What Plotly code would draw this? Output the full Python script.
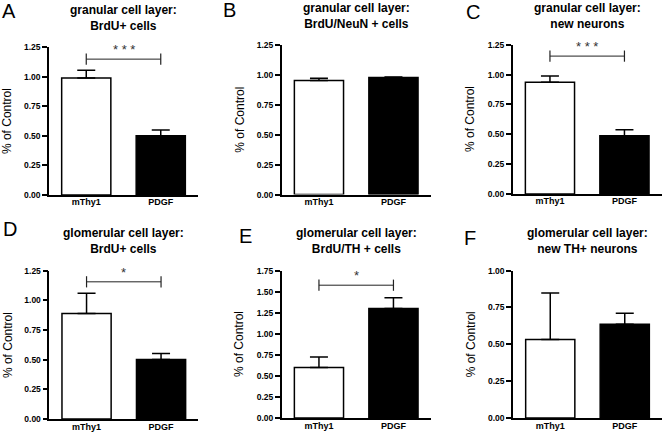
import plotly.graph_objects as go

W, H = 665, 440

# ---------------- data ----------------
groups = ["mThy1", "PDGF"]
panel_letters = ["A", "B", "C", "D", "E", "F"]
title_line1 = ["granular cell layer:", "granular cell layer:", "granular cell layer:",
               "glomerular cell layer:", "glomerular cell layer:", "glomerular cell layer:"]
title_line2 = ["BrdU+ cells", "BrdU/NeuN + cells", "new neurons",
               "BrdU+ cells", "BrdU/TH + cells", "new TH+ neurons"]
means_A = [0.99, 0.50]
sem_A = [0.065, 0.05]
means_B = [0.955, 0.98]
sem_B = [0.02, 0.006]
means_C = [0.935, 0.488]
sem_C = [0.053, 0.05]
means_D = [0.888, 0.502]
sem_D = [0.17, 0.05]
means_E = [0.60, 1.30]
sem_E = [0.123, 0.128]
means_F = [0.532, 0.636]
sem_F = [0.316, 0.075]
means = [means_A, means_B, means_C, means_D, means_E, means_F]
sems = [sem_A, sem_B, sem_C, sem_D, sem_E, sem_F]
y_max = [1.25, 1.25, 1.25, 1.25, 1.75, 1.0]
sig_level = [1.15, None, 1.155, 1.155, 1.576, None]
sig_stars = ["* * *", None, "* * *", "*", "*", None]

# ---------------- layout (pixel geometry) ----------------
dom_x = [(49, 198), (281.7, 430.7), (512.7, 661.7),
         (49.3, 198.3), (281.7, 430.7), (513, 662)]
dom_y = [(43.3, 194.3), (41.3, 194.0), (40.7, 193.3),
         (271.7, 423.7), (271.7, 422.7), (271.7, 422.7)]
letter_pos = [(1, 2.7), (221.7, 1.7), (465, 3.5), (1.7, 226), (238.3, 233.3), (462.7, 235)]

FONT = "Arial, Liberation Sans, sans-serif"


def pxx(x):
    return x / W


def pxy(y):
    return 1 - y / H


fig = go.Figure()
annotations = []

for i in range(6):
    xa = "x" if i == 0 else f"x{i+1}"
    ya = "y" if i == 0 else f"y{i+1}"
    fig.add_trace(go.Bar(
        x=[0, 1], y=means[i], width=0.66,
        marker=dict(color=["white", "black"], line=dict(color="black", width=1.5)),
        error_y=dict(type="data", symmetric=False, array=sems[i], arrayminus=[0, 0],
                     color="black", thickness=1.5, width=9),
        xaxis=xa, yaxis=ya, showlegend=False, hoverinfo="skip",
    ))
    if sig_level[i] is not None:
        fig.add_trace(go.Scatter(
            x=[0, 1], y=[sig_level[i], sig_level[i]], mode="lines+markers",
            line=dict(color="#222", width=1),
            marker=dict(symbol="line-ns", size=8, line=dict(color="#222", width=1.2)),
            xaxis=xa, yaxis=ya, showlegend=False, hoverinfo="skip", cliponaxis=False,
        ))
        annotations.append(dict(
            x=0.5, y=sig_level[i], xref=xa, yref=ya, text=sig_stars[i], showarrow=False,
            xanchor="center", yanchor="bottom", yshift=0,
            font=dict(family=FONT, size=13, color="#333"),
        ))

    ax_key = "xaxis" if i == 0 else f"xaxis{i+1}"
    ay_key = "yaxis" if i == 0 else f"yaxis{i+1}"
    x0, x1 = dom_x[i]
    y0, y1 = dom_y[i]
    fig.update_layout(**{
        ax_key: dict(
            domain=[pxx(x0), pxx(x1)], range=[-0.5, 1.5], anchor=ya,
            tickmode="array", tickvals=[0, 1], ticktext=groups,
            showline=True, linecolor="black", linewidth=1.5, ticks="",
            ticklabelstandoff=-2,
            showgrid=False, zeroline=False, fixedrange=True,
            tickfont=dict(family=FONT, size=9, color="black", weight="bold"),
        ),
        ay_key: dict(
            domain=[pxy(y1), pxy(y0)], range=[0, y_max[i]], anchor=xa,
            dtick=0.25, tickformat=".2f",
            showline=True, linecolor="black", linewidth=1.5,
            ticks="outside", ticklen=5, tickwidth=1.5, tickcolor="black",
            showgrid=False, zeroline=False, fixedrange=True,
            tickfont=dict(family=FONT, size=8.5, color="black", weight="bold"),
        ),
    })
    # y axis title
    annotations.append(dict(
        x=pxx(x0 - 42), y=pxy((y0 + y1) / 2), xref="paper", yref="paper",
        text="% of Control", textangle=-90, showarrow=False,
        xanchor="center", yanchor="middle",
        font=dict(family=FONT, size=12, color="black"),
    ))
    # panel title (two lines)
    cx = (x0 + x1) / 2
    annotations.append(dict(
        x=pxx(cx), y=pxy(y0 - 16.5 + 4), xref="paper", yref="paper",
        text=title_line1[i] + "<br>" + title_line2[i], showarrow=False,
        xanchor="center", yanchor="bottom", align="center",
        font=dict(family=FONT, size=12, color="black", weight="bold"),
    ))
    # panel letter
    lx, ly = letter_pos[i]
    annotations.append(dict(
        x=pxx(lx - 1), y=pxy(ly - 10), xref="paper", yref="paper",
        text=panel_letters[i], showarrow=False, xanchor="left", yanchor="top",
        font=dict(family=FONT, size=20, color="black"),
    ))

fig.update_layout(
    width=W, height=H, margin=dict(l=0, r=0, t=0, b=0),
    paper_bgcolor="white", plot_bgcolor="white",
    annotations=annotations, barmode="overlay",
)

fig.write_html("out.html", config={"displayModeBar": False},
               post_script="document.body.style.margin='0';document.body.style.padding='0';")
